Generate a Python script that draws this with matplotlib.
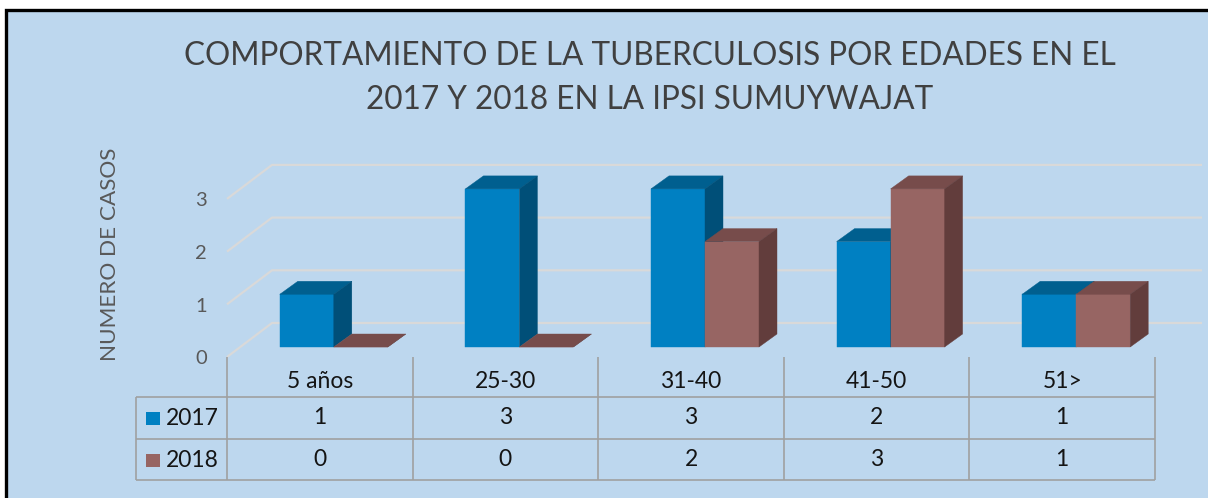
import matplotlib.pyplot as plt
from matplotlib.patches import Polygon, Rectangle

plt.rcParams['font.family'] = ['Lato', 'DejaVu Sans']

categories = ["5 años", "25-30", "31-40", "41-50", "51>"]
series_names = ["2017", "2018"]
casos_2017 = [1, 3, 3, 2, 1]
casos_2018 = [0, 0, 2, 3, 1]
y_ticks = [0, 1, 2, 3]

title = "COMPORTAMIENTO DE LA TUBERCULOSIS POR EDADES EN EL\n2017 Y 2018 EN LA IPSI SUMUYWAJAT"
ylabel = "NUMERO DE CASOS"

# colores (frente, arriba, lado)
blue = ("#0080C2", "#005F8F", "#004F78")
red = ("#976563", "#774C4B", "#623D3C")
bg_color = "#BDD7EE"
grid_color = "#D9D9D9"
line_color = "#A0A0A0"
text_dark = "#141414"

W, H = 1208, 498
fig = plt.figure(figsize=(W / 100, H / 100), dpi=100)
fig.patch.set_facecolor("white")

# fondo y marco en pixeles
bg = fig.add_axes([0, 0, 1, 1])
bg.set_xlim(0, W)
bg.set_ylim(H, 0)
bg.axis("off")
bg.add_patch(Rectangle((5.5, 9.5), W + 20, H + 20, facecolor=bg_color,
                       edgecolor="black", lw=2.4))
bg.text(650, 78, title, ha="center", va="center", fontsize=22.7,
        color="#404040", linespacing=1.6)
bg.text(110, 254, ylabel, ha="center", va="center", rotation=90,
        fontsize=16.2, color="#595959")

# ejes de las barras: x = columnas de la tabla, y = casos
X0, CW = 227, 185.6
Y0, UH = 347, 52.7
ax = fig.add_axes([0, 0, 1, 1])
ax.set_facecolor("none")
ax.set_xlim(-X0 / CW, (W - X0) / CW)
ax.set_ylim(-(H - Y0) / UH, Y0 / UH)
ax.axis("off")


def py(p):
    return (Y0 - p) / UH


def px(p):
    return (p - X0) / CW


# lineas de cuadricula (piso/pared en perspectiva)
back_x = px(272)
x_end = px(1202)
for v in y_ticks:
    yf = v + py(357)
    yb = v + py(323)
    ax.plot([0, back_x, x_end], [yf, yb, yb], color=grid_color, lw=1.6,
            zorder=1, solid_capstyle="butt")
    ax.text(px(207), v + py(359), str(v), ha="right", va="center",
            fontsize=14.5, color="#595959")

bar_w = 54 / CW
dx, dy = 18 / CW, 13 / UH
shift = 14 / CW


def bar3d(x, h, cols):
    front, top, side = cols
    kw = dict(lw=0.3, zorder=3)
    ax.add_patch(Polygon([(x, 0), (x + bar_w, 0), (x + bar_w, h), (x, h)],
                         fc=front, ec=front, **kw))
    ax.add_patch(Polygon([(x, h), (x + bar_w, h), (x + bar_w + dx, h + dy),
                          (x + dx, h + dy)], fc=top, ec=top, **kw))
    ax.add_patch(Polygon([(x + bar_w, 0), (x + bar_w + dx, dy),
                          (x + bar_w + dx, h + dy), (x + bar_w, h)],
                         fc=side, ec=side, **kw))


for i in range(len(categories)):
    c = i + 0.5 + shift
    bar3d(c - bar_w, casos_2017[i], blue)
    bar3d(c, casos_2018[i], red)

# tabla de datos
lk = dict(color=line_color, lw=1.2, zorder=2, solid_capstyle="butt")
left = px(136)
for p in [397, 439, 480]:
    ax.plot([left, len(categories)], [py(p), py(p)], **lk)
for j in range(len(categories) + 1):
    ax.plot([j, j], [py(357), py(480)], **lk)
ax.plot([left, left], [py(397), py(480)], **lk)

row_y = [py(418), py(460)]
for i, cat in enumerate(categories):
    ax.text(i + 0.5, py(382), cat, ha="center", va="center", fontsize=16.5,
            color=text_dark)
    for vals, yy in zip([casos_2017, casos_2018], row_y):
        ax.text(i + 0.5, yy, str(vals[i]), ha="center", va="center",
                fontsize=16.5, color=text_dark)

for name, cols, yy in zip(series_names, [blue, red], [418, 460]):
    bg.add_patch(Rectangle((146, yy - 6.5), 14, 13, facecolor=cols[0],
                           edgecolor="none"))
    bg.text(166, yy, name, ha="left", va="center", fontsize=16.5,
            color=text_dark)

fig.savefig("out.png", dpi=100, facecolor=fig.get_facecolor())
